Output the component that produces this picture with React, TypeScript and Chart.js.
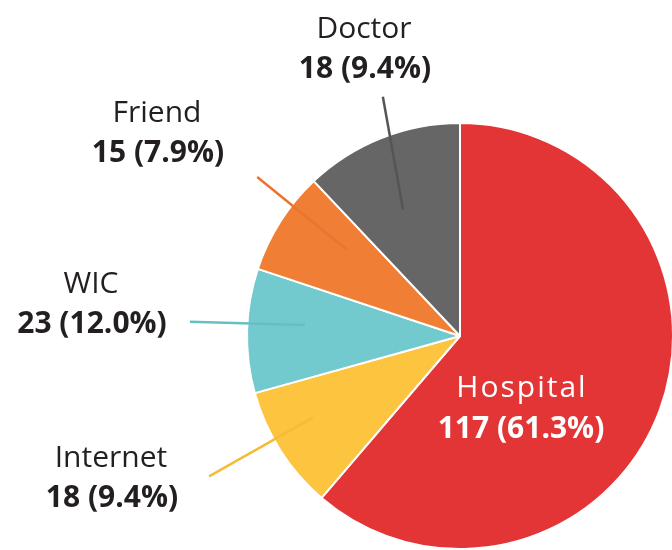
import React, { useEffect, useRef } from "react";
import { Chart, registerables } from "chart.js";

Chart.register(...registerables);

const categories = ["Hospital", "Internet", "WIC", "Friend", "Doctor"];
const counts = [117, 18, 23, 15, 18];
const percentLabels = ["61.3%", "9.4%", "12.0%", "7.9%", "9.4%"];
// slice sizes as drawn in the reference picture
const sliceValues = [117, 18, 18, 15, 23];
const sliceColors = ["#e33535", "#fdc43f", "#72c9ce", "#f07f35", "#666666"];
const leaderColors = ["", "#f6bb37", "#66bfc4", "#ea7430", "#555555"];

// label layout (annotation only): angle offsets (deg) and radii (fraction of R)
const leaderLayout = [
  null,
  { aIn: 3.5, rIn: 0.79, aOut: 3.3, rOut: 1.35, tx: 111, ty: 467 },
  { aIn: 2.6, rIn: 0.73, aOut: 1.6, rOut: 1.27, tx: 91, ty: 293 },
  { aIn: 4.8, rIn: 0.67, aOut: 5.6, rOut: 1.21, tx: 157, ty: 122 },
  { aIn: -2.6, rIn: 0.65, aOut: 3.8, rOut: 1.18, tx: 364, ty: 38 },
];

const labelPlugin = {
  id: "pieLabels",
  afterDatasetsDraw(chart: any) {
    const ctx = chart.ctx;
    const meta = chart.getDatasetMeta(0);
    ctx.save();
    meta.data.forEach((arc: any, i: number) => {
      const { x, y, startAngle, endAngle, outerRadius } = arc.getProps(
        ["x", "y", "startAngle", "endAngle", "outerRadius"],
        true
      );
      const mid = (startAngle + endAngle) / 2;
      const name = categories[i];
      const val = `${counts[i]} (${percentLabels[i]})`;
      const lay = leaderLayout[i];
      ctx.textAlign = "center";
      ctx.textBaseline = "alphabetic";
      if (!lay) {
        ctx.fillStyle = "#ffffff";
        ctx.font = "30px 'Open Sans'";
        (ctx as any).letterSpacing = "2px";
        ctx.fillText(name, x + 62, y + 61);
        (ctx as any).letterSpacing = "0px";
        ctx.font = "bold 30px 'Open Sans'";
        ctx.fillText(val, x + 61, y + 102);
        return;
      }
      const d2r = Math.PI / 180;
      const ai = mid + lay.aIn * d2r;
      const ao = mid + lay.aOut * d2r;
      ctx.strokeStyle = leaderColors[i];
      ctx.lineWidth = 2.5;
      ctx.beginPath();
      ctx.moveTo(x + outerRadius * lay.rIn * Math.cos(ai), y + outerRadius * lay.rIn * Math.sin(ai));
      ctx.lineTo(x + outerRadius * lay.rOut * Math.cos(ao), y + outerRadius * lay.rOut * Math.sin(ao));
      ctx.stroke();
      ctx.fillStyle = "#231f20";
      ctx.font = "30px 'Open Sans'";
      ctx.fillText(name, lay.tx, lay.ty);
      ctx.font = "bold 30px 'Open Sans'";
      ctx.fillText(val, lay.tx + 1, lay.ty + 40);
    });
    ctx.restore();
  },
};

export default function App() {
  const ref = useRef<HTMLCanvasElement>(null);
  useEffect(() => {
    if (!ref.current) return;
    const chart = new Chart(ref.current, {
      type: "pie",
      data: {
        labels: categories,
        datasets: [
          {
            data: sliceValues,
            backgroundColor: sliceColors,
            borderColor: "#ffffff",
            borderWidth: 2,
          },
        ],
      },
      options: {
        responsive: false,
        animation: false,
        layout: { padding: { left: 246, right: 6, top: 122, bottom: 0 } },
        plugins: { legend: { display: false }, tooltip: { enabled: false } },
      },
      plugins: [labelPlugin],
    });
    return () => chart.destroy();
  }, []);
  return (
    <div
      style={{
        position: "fixed",
        left: 0,
        top: 0,
        width: 672,
        height: 550,
        overflow: "hidden",
        background: "#ffffff",
      }}
    >
      <canvas ref={ref} width={680} height={550} style={{ width: 680, height: 550, display: "block" }} />
    </div>
  );
}
